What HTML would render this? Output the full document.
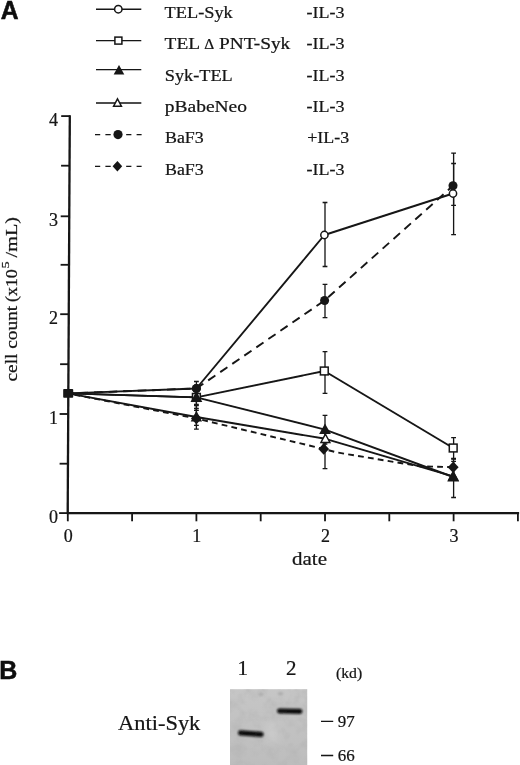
<!DOCTYPE html>
<html><head><meta charset="utf-8"><title>Figure</title>
<style>
html,body{margin:0;padding:0;background:#fff;}
svg{display:block;}
text{font-family:"Liberation Serif",serif;fill:#141414;stroke:#141414;stroke-width:0.22px;}
.sans{font-family:"Liberation Sans",sans-serif;font-weight:bold;fill:#0a0a0a;stroke:#0a0a0a;stroke-width:0.5px;}
</style></head><body>
<svg width="520" height="765" viewBox="0 0 520 765">
<defs>
<filter id="bandblur" x="-30%" y="-100%" width="160%" height="300%"><feGaussianBlur stdDeviation="1.05"/></filter>
<filter id="soft" x="0" y="0" width="100%" height="100%" filterUnits="userSpaceOnUse"><feGaussianBlur stdDeviation="0.35"/></filter>
<filter id="bigblur" x="-100%" y="-100%" width="300%" height="300%"><feGaussianBlur stdDeviation="4"/></filter>
<filter id="noise" x="0" y="0" width="100%" height="100%"><feTurbulence type="fractalNoise" baseFrequency="0.09" numOctaves="3" seed="7" result="n"/><feColorMatrix in="n" type="matrix" values="0 0 0 0 0.45  0 0 0 0 0.45  0 0 0 0 0.45  2.2 1.2 0 0 -1.45"/><feComposite in2="SourceGraphic" operator="in"/></filter>
<linearGradient id="blotg" x1="0" y1="0" x2="0" y2="1">
<stop offset="0" stop-color="#c6c6c6"/><stop offset="1" stop-color="#bdbdbd"/>
</linearGradient>
</defs>
<rect width="520" height="765" fill="#fff"/>
<g filter="url(#soft)">

<path d="M96,9.2 H141.3" stroke="#141414" stroke-width="1.45" fill="none"/>
<circle cx="118.3" cy="9.2" r="3.70" fill="#fff" stroke="#141414" stroke-width="1.5"/>
<text transform="translate(164.6,17.8) scale(1.078,1)" font-size="17">TEL-Syk</text>
<text transform="translate(306.5,17.8) scale(1.062,1)" font-size="17">-IL-3</text>
<path d="M96,40.6 H141.3" stroke="#141414" stroke-width="1.45" fill="none"/>
<rect x="114.9" y="37.1" width="7.0" height="7.0" fill="#fff" stroke="#141414" stroke-width="1.5"/>
<text transform="translate(164.6,49.2) scale(1.139,1)" font-size="17">TEL <tspan font-size="13.6">Δ</tspan> PNT-Syk</text>
<text transform="translate(306.5,49.2) scale(1.062,1)" font-size="17">-IL-3</text>
<path d="M96,69.6 H141.3" stroke="#141414" stroke-width="1.45" fill="none"/>
<path d="M119.0,64.9 L124.3,74.4 H113.7 Z" fill="#141414"/>
<text transform="translate(164.8,81.0) scale(1.075,1)" font-size="17">Syk-TEL</text>
<text transform="translate(306.5,81.0) scale(1.062,1)" font-size="17">-IL-3</text>
<path d="M96,103 H141.3" stroke="#141414" stroke-width="1.45" fill="none"/>
<path d="M117.5,98.8 L121.5,106.3 H113.5 Z" fill="#fff" stroke="#141414" stroke-width="1.4" stroke-linejoin="miter"/>
<text transform="translate(164.8,112.2) scale(1.146,1)" font-size="17">pBabeNeo</text>
<text transform="translate(306.5,112.2) scale(1.062,1)" font-size="17">-IL-3</text>
<path d="M95,134.6 h5.2 M105.4,134.6 h5.3 M126.2,134.6 h5.2 M136.6,134.6 h5" stroke="#141414" stroke-width="1.3" fill="none"/>
<circle cx="118.0" cy="134.6" r="4.60" fill="#141414"/>
<text transform="translate(165.0,143.2) scale(1.053,1)" font-size="17">BaF3</text>
<text transform="translate(307.2,143.2) scale(1.055,1)" font-size="17">+IL-3</text>
<path d="M95,166.3 h5.2 M105.4,166.3 h5.3 M126.2,166.3 h5.2 M136.6,166.3 h5" stroke="#141414" stroke-width="1.3" fill="none"/>
<path d="M117.4,161.1 L122.2,166.3 L117.4,171.5 L112.6,166.3 Z" fill="#141414"/>
<text transform="translate(165.0,175.0) scale(1.053,1)" font-size="17">BaF3</text>
<text transform="translate(306.5,175.0) scale(1.062,1)" font-size="17">-IL-3</text>
<g stroke="#141414" stroke-width="2.3" fill="none" stroke-linecap="butt">
<path d="M69.8,115.2 L67.7,514.05"/>
<path d="M66.8,513.1 H519.1"/>
</g>
<g stroke="#141414" stroke-width="1.8" fill="none">
<path d="M59.1,513.1 H67.7"/>
<path d="M59.6,463.7 H68.0"/>
<path d="M59.6,414.0 H68.2"/>
<path d="M60.1,364.2 H68.5"/>
<path d="M60.2,314.2 H68.8"/>
<path d="M60.6,264.8 H69.0"/>
<path d="M60.7,216.3 H69.3"/>
<path d="M61.1,165.7 H69.5"/>
<path d="M61.2,116.1 H69.8"/>
<path d="M67.8,513.1 V521.3000000000001"/>
<path d="M132.1,513.1 V521.3000000000001"/>
<path d="M196.4,513.1 V521.3000000000001"/>
<path d="M260.7,513.1 V521.3000000000001"/>
<path d="M325.0,513.1 V521.3000000000001"/>
<path d="M389.3,513.1 V521.3000000000001"/>
<path d="M453.6,513.1 V521.3000000000001"/>
<path d="M517.9,513.1 V521.3000000000001"/>
</g>
<text transform="translate(49.0,523.0) scale(1.000,1)" font-size="18">0</text>
<text transform="translate(49.0,423.9) scale(1.000,1)" font-size="18">1</text>
<text transform="translate(49.0,324.1) scale(1.000,1)" font-size="18">2</text>
<text transform="translate(49.0,226.2) scale(1.000,1)" font-size="18">3</text>
<text transform="translate(49.0,126.0) scale(1.000,1)" font-size="18">4</text>
<text transform="translate(63.7,541.8) scale(1.000,1)" font-size="18">0</text>
<text transform="translate(192.3,541.8) scale(1.000,1)" font-size="18">1</text>
<text transform="translate(320.9,541.8) scale(1.000,1)" font-size="18">2</text>
<text transform="translate(449.5,541.8) scale(1.000,1)" font-size="18">3</text>
<text transform="translate(292.0,564.6) scale(1.167,1)" font-size="18">date</text>
<text transform="translate(17.4,381.5) rotate(-90) scale(1.137,1)" font-size="17">cell count</text>
<text transform="translate(17.4,302.0) rotate(-90) scale(1.053,1)" font-size="17">(x10</text>
<text transform="translate(9.0,268.6) rotate(-90) scale(1.371,1)" font-size="10.5">5</text>
<text transform="translate(17.4,257.4) rotate(-90) scale(1.191,1)" font-size="17">/mL)</text>
<path d="M67.8,393.4 L196.4,417.0 L325.4,438.8 L453.2,476.3" stroke="#141414" stroke-width="1.9" fill="none" stroke-linejoin="round"/>
<path d="M67.8,393.4 L196.4,397.4 L324.4,371.0 L453.2,448.0" stroke="#141414" stroke-width="1.9" fill="none" stroke-linejoin="round"/>
<path d="M67.8,393.4 L196.4,388.5 L324.4,235.0 L453.0,193.5" stroke="#141414" stroke-width="1.9" fill="none" stroke-linejoin="round"/>
<path d="M67.8,393.4 L196.4,418.5 L323.7,449.0 L336.6,452.4 L420.2,466.3 L453.2,467.2" stroke="#141414" stroke-width="1.9" fill="none" stroke-dasharray="5.8,4.2" stroke-dashoffset="3" stroke-linejoin="round"/>
<path d="M67.8,393.4 L196.4,388.5 L324.6,300.5 L453.0,185.8" stroke="#141414" stroke-width="1.9" fill="none" stroke-dasharray="8.7,5.9" stroke-dashoffset="3" stroke-linejoin="round"/>
<path d="M67.8,393.4 L196.4,397.4 L325.0,429.6 L453.2,477.0" stroke="#141414" stroke-width="1.9" fill="none" stroke-linejoin="round"/>
<path d="M196.4,405.7 V429.2 M194.0,405.7 H198.8 M194.0,429.2 H198.8" stroke="#141414" stroke-width="1.3" fill="none"/>
<path d="M196.4,391.0 V404.5 M194.0,391.0 H198.8 M194.0,404.5 H198.8" stroke="#141414" stroke-width="1.3" fill="none"/>
<path d="M325.0,351.6 V393.4 M322.6,351.6 H327.4 M322.6,393.4 H327.4" stroke="#141414" stroke-width="1.3" fill="none"/>
<path d="M453.6,437.7 V459.0 M451.2,437.7 H456.0 M451.2,459.0 H456.0" stroke="#141414" stroke-width="1.3" fill="none"/>
<path d="M325.0,202.5 V266.5 M322.6,202.5 H327.4 M322.6,266.5 H327.4" stroke="#141414" stroke-width="1.3" fill="none"/>
<path d="M453.6,153.1 V234.6 M451.2,153.1 H456.0 M451.2,234.6 H456.0" stroke="#141414" stroke-width="1.3" fill="none"/>
<path d="M196.4,408.5 V425.4 M194.0,408.5 H198.8 M194.0,425.4 H198.8" stroke="#141414" stroke-width="1.3" fill="none"/>
<path d="M325.0,430.0 V468.6 M322.6,430.0 H327.4 M322.6,468.6 H327.4" stroke="#141414" stroke-width="1.3" fill="none"/>
<path d="M453.6,458.5 V476.0 M451.2,458.5 H456.0 M451.2,476.0 H456.0" stroke="#141414" stroke-width="1.3" fill="none"/>
<path d="M196.4,381.5 V395.5 M194.0,381.5 H198.8 M194.0,395.5 H198.8" stroke="#141414" stroke-width="1.3" fill="none"/>
<path d="M325.0,284.4 V317.6 M322.6,284.4 H327.4 M322.6,317.6 H327.4" stroke="#141414" stroke-width="1.3" fill="none"/>
<path d="M453.6,163.5 V205.4 M451.2,163.5 H456.0 M451.2,205.4 H456.0" stroke="#141414" stroke-width="1.3" fill="none"/>
<path d="M196.4,390.0 V410.3 M194.0,390.0 H198.8 M194.0,410.3 H198.8" stroke="#141414" stroke-width="1.3" fill="none"/>
<path d="M325.0,415.4 V444.0 M322.6,415.4 H327.4 M322.6,444.0 H327.4" stroke="#141414" stroke-width="1.3" fill="none"/>
<path d="M453.6,461.3 V497.5 M451.2,461.3 H456.0 M451.2,497.5 H456.0" stroke="#141414" stroke-width="1.3" fill="none"/>
<path d="M196.4,412.3 L200.9,420.7 H191.9 Z" fill="#fff" stroke="#141414" stroke-width="1.4" stroke-linejoin="miter"/>
<path d="M325.4,434.1 L329.9,442.5 H320.9 Z" fill="#fff" stroke="#141414" stroke-width="1.4" stroke-linejoin="miter"/>
<path d="M453.2,471.6 L457.7,480.0 H448.7 Z" fill="#fff" stroke="#141414" stroke-width="1.4" stroke-linejoin="miter"/>
<rect x="192.5" y="393.5" width="7.8" height="7.8" fill="#fff" stroke="#141414" stroke-width="1.5"/>
<rect x="320.4" y="367.1" width="7.8" height="7.8" fill="#fff" stroke="#141414" stroke-width="1.5"/>
<rect x="449.3" y="444.1" width="7.8" height="7.8" fill="#fff" stroke="#141414" stroke-width="1.5"/>
<circle cx="196.4" cy="388.5" r="3.63" fill="#fff" stroke="#141414" stroke-width="1.5"/>
<circle cx="324.4" cy="235.0" r="3.63" fill="#fff" stroke="#141414" stroke-width="1.5"/>
<circle cx="453.0" cy="193.5" r="3.63" fill="#fff" stroke="#141414" stroke-width="1.5"/>
<path d="M196.4,412.7 L201.8,418.5 L196.4,424.3 L191.0,418.5 Z" fill="#141414"/>
<path d="M323.7,443.2 L329.1,449.0 L323.7,454.8 L318.3,449.0 Z" fill="#141414"/>
<path d="M453.2,461.4 L458.6,467.2 L453.2,473.0 L447.8,467.2 Z" fill="#141414"/>
<circle cx="196.4" cy="388.5" r="4.51" fill="#141414"/>
<circle cx="324.6" cy="300.5" r="4.51" fill="#141414"/>
<circle cx="453.0" cy="185.8" r="4.51" fill="#141414"/>
<path d="M196.4,391.2 L202.3,401.9 H190.5 Z" fill="#141414"/>
<path d="M325.0,423.4 L330.9,434.1 H319.1 Z" fill="#141414"/>
<path d="M453.2,470.8 L459.2,481.5 H447.3 Z" fill="#141414"/>
<rect x="63.2" y="389" width="10" height="8.8" rx="0.8" fill="#141414"/>
<text class="sans" transform="translate(0.8,18.5) scale(0.95,1)" font-size="26">A</text>
<text class="sans" transform="translate(-0.7,678.5) scale(0.98,1)" font-size="25.5">B</text>
<rect x="230" y="689.2" width="77.2" height="77" fill="url(#blotg)"/>
<rect x="230" y="689.2" width="77.2" height="77" fill="#808080" filter="url(#noise)" opacity="0.5"/>
<ellipse cx="272" cy="733" rx="5" ry="13" fill="#d6d6d6" opacity="0.55" filter="url(#bigblur)"/>
<ellipse cx="261" cy="694.5" rx="2.5" ry="1.6" fill="#9a9a9a" opacity="0.6" filter="url(#bandblur)"/>
<ellipse cx="280.5" cy="693.8" rx="2.8" ry="1.8" fill="#9a9a9a" opacity="0.6" filter="url(#bandblur)"/>
<g filter="url(#bandblur)">
<rect x="238" y="731.0" width="25.6" height="5.2" rx="2.4" fill="#0c0c0c" transform="rotate(4 250.8 733.6)"/>
<rect x="277" y="708.6" width="25.4" height="5.1" rx="2.4" fill="#0c0c0c" transform="rotate(1 289.7 711.1)"/>
</g>
<text transform="translate(237.4,675.2) scale(1.050,1)" font-size="20">1</text>
<text transform="translate(286.1,675.2) scale(1.050,1)" font-size="20">2</text>
<text transform="translate(336.0,678.4) scale(1.123,1)" font-size="14">(kd)</text>
<path d="M321,721.4 H333.2 M321,755.5 H333.2" stroke="#141414" stroke-width="1.3"/>
<text transform="translate(337.8,727.4) scale(1.030,1)" font-size="16.5">97</text>
<text transform="translate(337.8,761.4) scale(1.030,1)" font-size="16.5">66</text>
<text transform="translate(118.0,730.0) scale(1.070,1)" font-size="21">Anti-Syk</text>
</g>
</svg></body></html>
